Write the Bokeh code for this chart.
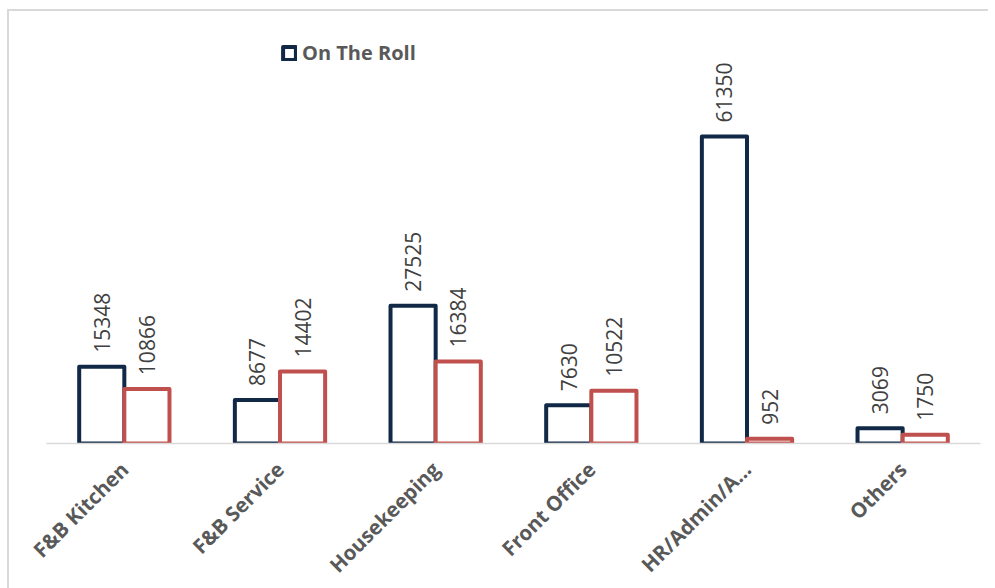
import math
from bokeh.plotting import figure
from bokeh.models import ColumnDataSource, FactorRange, Range1d, LabelSet, Legend, LegendItem
from bokeh.core.properties import value
from bokeh.transform import dodge
from bokeh.embed import file_html
from bokeh.resources import INLINE

categories = ["F&B Kitchen", "F&B Service", "Housekeeping", "Front Office", "HR/Admin/A...", "Others"]
on_the_roll = [15348, 8677, 27525, 7630, 61350, 3069]
second_series = [10866, 14402, 16384, 10522, 952, 1750]

NAVY = "#112846"
RED = "#C0504D"

source = ColumnDataSource(dict(
    cat=categories,
    roll=on_the_roll,
    other=second_series,
    roll_s=[str(v) for v in on_the_roll],
    other_s=[str(v) for v in second_series],
))

p = figure(
    x_range=FactorRange(*categories, range_padding=0),
    y_range=Range1d(0, 82930),
    frame_width=934, frame_height=415,
    output_backend="svg", toolbar_location=None,
    min_border_left=37, min_border_right=8, min_border_top=17, min_border_bottom=100,
)
p.styles = {"border-left": "2px solid #d9d9d9", "border-top": "2px solid #d9d9d9",
            "margin-left": "7px", "margin-top": "9px"}

r1 = p.vbar(x=dodge("cat", -0.145, range=p.x_range), top="roll", width=0.29, source=source,
            fill_color="white", line_color=NAVY, line_width=4, line_join="round")
r2 = p.vbar(x=dodge("cat", 0.145, range=p.x_range), top="other", width=0.29, source=source,
            fill_color="white", line_color=RED, line_width=4, line_join="round")

for field, txt, off in (("roll", "roll_s", -0.145), ("other", "other_s", 0.145)):
    lbl = LabelSet(x=dodge("cat", off, range=p.x_range), y=field, text=txt, source=source,
                   angle=math.pi / 2, text_align="left", text_baseline="middle",
                   y_offset=14, text_font=value("Open Sans"), text_font_size="21px",
                   text_color="#404040")
    p.add_layout(lbl)

legend = Legend(items=[LegendItem(label="On The Roll", renderers=[r1])],
                location=(233, 375), orientation="horizontal",
                glyph_width=16, glyph_height=16, label_text_font="Open Sans",
                label_text_font_size="20px", label_text_font_style="bold", label_text_color="#595959",
                background_fill_alpha=0, border_line_alpha=0, padding=2, label_standoff=5)
p.add_layout(legend)

p.yaxis.visible = False
p.xaxis.axis_line_color = "#d9d9d9"
p.xaxis.axis_line_width = 1.5
p.xaxis.major_tick_line_color = None
p.xaxis.minor_tick_line_color = None
p.xaxis.major_tick_out = 0
p.xaxis.major_tick_in = 0
p.xaxis.minor_tick_out = 0
p.xaxis.major_label_orientation = math.pi / 4
p.xaxis.major_label_text_font = "Open Sans"
p.xaxis.major_label_text_font_size = "20.5px"
p.xaxis.major_label_text_font_style = "bold"
p.xaxis.major_label_text_color = "#595959"
p.xaxis.major_label_standoff = 22
p.xgrid.grid_line_color = None
p.ygrid.grid_line_color = None
p.outline_line_color = None

open("out.html", "w").write(file_html(p, INLINE))
